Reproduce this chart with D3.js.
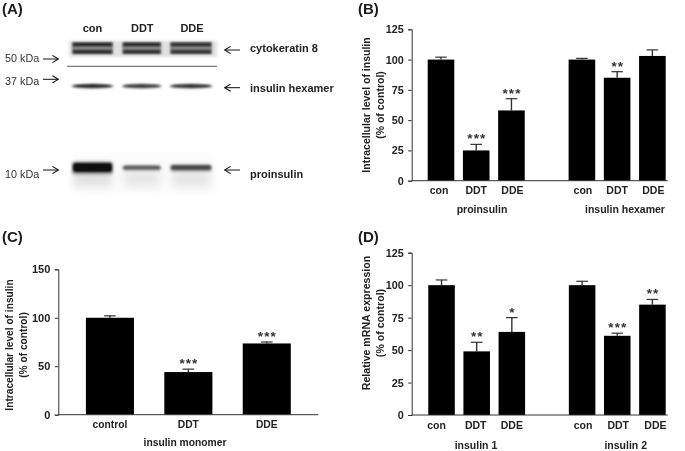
<!DOCTYPE html>
<html><head><meta charset="utf-8">
<script src="https://cdn.jsdelivr.net/npm/d3@7"></script>
<style>
html,body{margin:0;padding:0;background:#fff}
svg{display:block}
text{font-family:"Liberation Sans",Arial,sans-serif;fill:#222}
</style></head><body><div id="c"></div>
<script>
// ---- Data ----
const panelLetters = ["(A)","(B)","(C)","(D)"];
const lanes = ["con","DDT","DDE"];
const markers = ["50 kDa","37 kDa","10 kDa"];
const blotLabels = ["cytokeratin 8","insulin hexamer","proinsulin"];
const cytoIntensity = [0.9,0.88,0.85];
const hexamerIntensity = [0.95,0.8,0.88];
const proIntensity = [1,0.5,0.62];

const bCats = ["con","DDT","DDE","con","DDT","DDE"];
const bValues = [100,25,58,100,85,103];
const bErrors = [2,5,9.7,1,5,5];
const bStars = ["","***","***","","**",""];
const bGroups = ["proinsulin","insulin hexamer"];

const cCats = ["control","DDT","DDE"];
const cValues = [100,44,73.5];
const cErrors = [2,3,1.5];
const cStars = ["","***","***"];

const dCats = ["con","DDT","DDE","con","DDT","DDE"];
const dValues = [100,49,64,100,61,85];
const dErrors = [4,7,11,3,2,4];
const dStars = ["","**","*","","***","**"];
const dGroups = ["insulin 1","insulin 2"];

const W=685,H=451;
const svg=d3.select("#c").append("svg").attr("width",W).attr("height",H).attr("viewBox",`0 0 ${W} ${H}`);
const defs=svg.append("defs");
[["soft",0.4],["s7",0.8],["b1",1.2],["b2",1.8],["b4",4]].forEach(([id,s])=>
  defs.append("filter").attr("id",id).attr("x","-30%").attr("y","-200%").attr("width","160%").attr("height","500%")
   .append("feGaussianBlur").attr("stdDeviation",s));
const m=defs.append("marker").attr("id","ah").attr("viewBox","0 0 10 10").attr("refX",9).attr("refY",5)
  .attr("markerWidth",8).attr("markerHeight",8).attr("markerUnits","userSpaceOnUse").attr("orient","auto");
m.append("path").attr("d","M2,0.5L9.5,5L2,9.5").attr("fill","none").attr("stroke","#111").attr("stroke-width",1.3);

const root=svg.append("g").attr("filter","url(#soft)");

// panel letters
const letterPos=[[2,14],[358,14],[2,242],[358,242]];
root.selectAll(".pl").data(panelLetters).join("text").attr("class","pl")
 .attr("x",(d,i)=>letterPos[i][0]).attr("y",(d,i)=>letterPos[i][1])
 .attr("font-size",15).attr("font-weight","bold").style("fill","#1a1a1a").text(d=>d);

// ---- Panel A : blot ----
const A=root.append("g");
const laneX=d3.scalePoint().domain(d3.range(lanes.length)).range([92.5,191]);
const laneLabelX=d3.scalePoint().domain(lanes).range([92.5,192]);
const laneW=[41,39,42];
A.selectAll(".ln").data(lanes).join("text").attr("x",d=>laneLabelX(d)).attr("y",32)
 .attr("text-anchor","middle").attr("font-size",11).attr("font-weight","bold").text(d=>d);
// cytokeratin haze + two bands
A.append("rect").attr("x",69).attr("y",41).attr("width",148).attr("height",16).attr("fill","#e0e0e0").attr("filter","url(#b2)");
cytoIntensity.forEach((v,i)=>{
  const x=laneX(i),w=laneW[i];
  A.append("rect").attr("x",x-w/2).attr("y",42).attr("width",w).attr("height",12).attr("fill","#888").attr("filter","url(#b1)");
  [44.3,51.6].forEach(y=>A.append("rect").attr("x",x-w/2+1).attr("y",y-1.3).attr("width",w-2).attr("height",3)
    .attr("fill","#111").attr("opacity",v).attr("filter","url(#s7)"));
});
A.append("line").attr("x1",67).attr("x2",217).attr("y1",66.3).attr("y2",66.3).attr("stroke","#333").attr("stroke-width",0.8);
// hexamer
hexamerIntensity.forEach((v,i)=>{
  const x=laneX(i),w=laneW[i];
  A.append("ellipse").attr("cx",x).attr("cy",86.3).attr("rx",w/2+1).attr("ry",2.8).attr("fill","#b0b0b0").attr("filter","url(#b1)");
  A.append("ellipse").attr("cx",x).attr("cy",86).attr("rx",w/2-0.5).attr("ry",1.5).attr("fill","#000").attr("opacity",v).attr("filter","url(#s7)");
});
// proinsulin
A.append("rect").attr("x",72).attr("y",152).attr("width",145).attr("height",42).attr("fill","#fbfbfb").attr("filter","url(#b4)");
proIntensity.forEach((v,i)=>{
  const x=laneX(i),w=laneW[i];
  A.append("rect").attr("x",x-w/2+2).attr("y",171).attr("width",w-4).attr("height",15).attr("fill","#d8d8d8").attr("opacity",0.4+v*0.4).attr("filter","url(#b4)");
  const h1=3+10*v*v, h2=1.8+7*v*v;
  A.append("rect").attr("x",x-w/2).attr("y",168-h1/2).attr("width",w).attr("height",h1).attr("rx",3).attr("fill","#888").attr("opacity",.6+.3*v).attr("filter","url(#b2)");
  A.append("rect").attr("x",x-w/2+1).attr("y",167.5-h2/2).attr("width",w-2).attr("height",h2).attr("rx",3).attr("fill","#000").attr("opacity",v*0.9+0.02).attr("filter","url(#b1)");
});
// markers
const markerY=[61.7,85,177.7], markerArrowY=[59,79.3,170];
A.selectAll(".mk").data(markers).join("text").attr("x",5).attr("y",(d,i)=>markerY[i])
 .attr("font-size",10.8).text(d=>d).style("fill","#333");
markers.forEach((d,i)=>A.append("line").attr("x1",43).attr("x2",58).attr("y1",markerArrowY[i]).attr("y2",markerArrowY[i])
  .attr("stroke","#111").attr("stroke-width",1).attr("marker-end","url(#ah)"));
const labelY=[51.7,92.3,177.7], labelArrowY=[50,87.7,170];
A.selectAll(".bl").data(blotLabels).join("text").attr("x",250).attr("y",(d,i)=>labelY[i])
 .attr("font-size",11).attr("font-weight","bold").text(d=>d);
blotLabels.forEach((d,i)=>A.append("line").attr("x1",240).attr("x2",225).attr("y1",labelArrowY[i]).attr("y2",labelArrowY[i])
  .attr("stroke","#111").attr("stroke-width",1).attr("marker-end","url(#ah)"));

// ---- Bar panels ----
function barPanel(o){
  const g=root.append("g");
  const n=o.cats.length;
  const slots=o.groups? [0,1,2,"gap",3,4,5] : d3.range(n);
  const x=d3.scaleBand().domain(slots).range(o.xr).paddingInner(o.pad).paddingOuter(o.padO);
  const y=d3.scaleLinear().domain([0,o.max]).range(o.yr);
  const ax=g.append("g").attr("transform",`translate(${o.axisX},0)`).call(d3.axisLeft(y).tickValues(o.ticks).tickSize(3.5).tickPadding(4.5));
  ax.select(".domain").attr("stroke","#333").attr("stroke-width",1);
  ax.selectAll(".tick line").attr("stroke","#333");
  ax.selectAll("text").attr("font-size",o.tickFont).attr("font-weight","bold").style("font-family",'"Liberation Sans"').style("fill","#222");
  // error bars
  const eg=g.selectAll(".e").data(o.values).join("g");
  eg.append("line").attr("x1",(d,i)=>x(i)+x.bandwidth()/2).attr("x2",(d,i)=>x(i)+x.bandwidth()/2)
    .attr("y1",d=>y(d)).attr("y2",(d,i)=>y(d+o.errors[i])).attr("stroke","#333").attr("stroke-width",1.4);
  eg.append("line").attr("x1",(d,i)=>x(i)+x.bandwidth()/2-o.cap).attr("x2",(d,i)=>x(i)+x.bandwidth()/2+o.cap)
    .attr("y1",(d,i)=>y(d+o.errors[i])).attr("y2",(d,i)=>y(d+o.errors[i])).attr("stroke","#333").attr("stroke-width",1.2);
  // bars
  g.selectAll(".b").data(o.values).join("rect").attr("x",(d,i)=>x(i)).attr("width",x.bandwidth())
    .attr("y",d=>y(d)).attr("height",d=>y(0)-y(d)).attr("fill","#000");
  // baseline
  g.append("line").attr("x1",o.axisX).attr("x2",o.axisEnd).attr("y1",y(0)).attr("y2",y(0)).attr("stroke","#333").attr("stroke-width",1);
  // stars
  g.selectAll(".s").data(o.stars).join("text").attr("text-anchor","middle")
    .attr("x",(d,i)=>x(i)+x.bandwidth()/2+0.6).attr("y",(d,i)=>y(o.values[i]+o.errors[i])-1)
    .attr("font-size",13.5).attr("font-weight","bold").attr("letter-spacing",1.1).text(d=>d).style("fill","#333");
  // category labels
  g.selectAll(".c").data(o.cats).join("text").attr("text-anchor","middle")
    .attr("x",(d,i)=>x(i)+x.bandwidth()/2+(o.catDx?o.catDx[i]:0)).attr("y",y(0)+o.catDy)
    .attr("font-size",o.catFont).attr("font-weight","bold").text(d=>d);
  // group labels
  g.selectAll(".gl").data(o.groups||[o.single]).join("text").attr("text-anchor","middle")
    .attr("x",(d,i)=>o.groupX[i]).attr("y",y(0)+o.groupDy)
    .attr("font-size",o.catFont).attr("font-weight","bold").text(d=>d);
  // y title
  o.title.forEach((t,i)=>g.append("text").attr("text-anchor","middle")
    .attr("transform",`translate(${o.titleX+i*o.titleGap},${o.titleY}) rotate(-90)`)
    .attr("font-size",o.titleFont).attr("font-weight","bold").text(t));
}
barPanel({cats:bCats,values:bValues,errors:bErrors,stars:bStars,groups:bGroups,
  xr:[423.35,670],pad:0.245,padO:0.123,max:125,yr:[180.7,29.3],ticks:[0,25,50,75,100,125],
  axisX:411.7,axisEnd:667.7,cap:5.8,tickFont:10.8,catFont:10.5,catDy:13.5,groupDy:32.5,groupX:[482,625],catDx:[-2,0,1,1,0,1],
  title:["Intracellular level of insulin","(% of control)"],titleX:370,titleGap:13.5,titleY:105,titleFont:10.5});
barPanel({cats:cCats,values:cValues,errors:cErrors,stars:cStars,single:"insulin monomer",
  xr:[71,305.7],pad:0.387,padO:0.19,max:150,yr:[414.7,269.3],ticks:[0,50,100,150],
  axisX:58.3,axisEnd:318.3,cap:5.8,tickFont:11,catFont:10.3,catDy:13,groupDy:31.5,groupX:[185],
  title:["Intracellular level of insulin","(% of control)"],titleX:13,titleGap:14,titleY:345,titleFont:10.2});
barPanel({cats:dCats,values:dValues,errors:dErrors,stars:dStars,groups:dGroups,
  xr:[423.95,670],pad:0.245,padO:0.123,max:125,yr:[415,252.7],ticks:[0,25,50,75,100,125],
  axisX:411.7,axisEnd:667.7,cap:5.8,tickFont:10.8,catFont:10.5,catDy:14,groupDy:34,groupX:[476,625.7],catDx:[-5,-1,0,1,1,3],
  title:["Relative mRNA expression","(% of  control)"],titleX:370,titleGap:13.5,titleY:323,titleFont:10.6});
</script></body></html>
